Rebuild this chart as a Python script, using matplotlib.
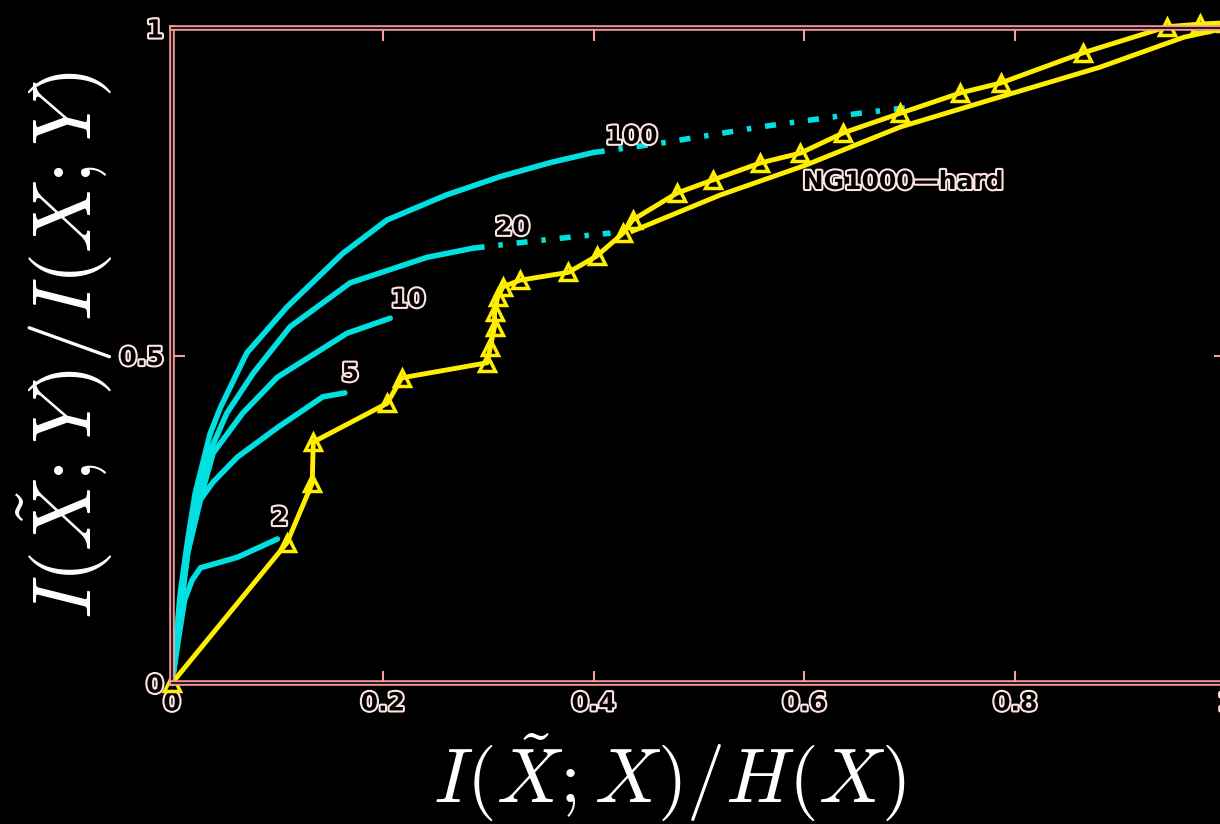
import matplotlib
matplotlib.use("Agg")
import matplotlib.pyplot as plt
import matplotlib.patheffects as pe

plt.rcParams["mathtext.fontset"] = "cm"

# curve data (x = I(X~;X)/H(X), y = I(X~;Y)/I(X;Y))
c100_x = [0, 0.003, 0.008, 0.015, 0.022, 0.036, 0.046, 0.071, 0.109, 0.162, 0.204, 0.26, 0.311, 0.36, 0.40]
c100_y = [0, 0.05, 0.14, 0.22, 0.29, 0.38, 0.421, 0.504, 0.574, 0.656, 0.707, 0.745, 0.773, 0.795, 0.81]
c100_dot_x = [0.40, 0.463, 0.558, 0.653, 0.70]
c100_dot_y = [0.81, 0.824, 0.849, 0.870, 0.879]

c20_x = [0, 0.003, 0.008, 0.015, 0.022, 0.035, 0.052, 0.077, 0.112, 0.169, 0.242, 0.286]
c20_y = [0, 0.05, 0.13, 0.21, 0.27, 0.35, 0.412, 0.473, 0.544, 0.611, 0.650, 0.664]
c20_dot_x = [0.286, 0.35, 0.416]
c20_dot_y = [0.664, 0.676, 0.687]

c10_x = [0, 0.003, 0.008, 0.015, 0.025, 0.039, 0.067, 0.10, 0.166, 0.207]
c10_y = [0, 0.04, 0.12, 0.20, 0.27, 0.351, 0.412, 0.467, 0.534, 0.557]

c5_x = [0, 0.003, 0.008, 0.015, 0.027, 0.039, 0.062, 0.10, 0.143, 0.164]
c5_y = [0, 0.04, 0.11, 0.20, 0.28, 0.307, 0.345, 0.39, 0.437, 0.443]

c2_x = [0, 0.006, 0.012, 0.019, 0.027, 0.062, 0.10]
c2_y = [0, 0.066, 0.127, 0.157, 0.176, 0.192, 0.22]

ng_x = [0, 0.109, 0.133, 0.134, 0.204, 0.218, 0.299, 0.302, 0.306, 0.306, 0.309, 0.314, 0.330,
        0.376, 0.403, 0.428, 0.437, 0.479, 0.513, 0.558, 0.596, 0.637, 0.691, 0.748, 0.786,
        0.864, 0.944, 0.975, 1.0]
ng_y = [0, 0.214, 0.305, 0.368, 0.427, 0.466, 0.489, 0.513, 0.544, 0.566, 0.589, 0.605, 0.615,
        0.627, 0.652, 0.687, 0.707, 0.748, 0.768, 0.794, 0.809, 0.840, 0.870, 0.901, 0.916,
        0.962, 1.002, 1.006, 1.008]
ng_low_x = [0.437, 0.52, 0.60, 0.691, 0.786, 0.88, 0.96, 1.0]
ng_low_y = [0.69, 0.745, 0.79, 0.849, 0.895, 0.94, 0.986, 1.0]

labels = ["100", "20", "10", "5", "2", "NG1000\u2014hard"]
label_x = [0.436, 0.323, 0.224, 0.169, 0.102, 0.694]
label_y = [0.834, 0.695, 0.585, 0.472, 0.252, 0.765]

xticks = [0, 0.2, 0.4, 0.6, 0.8, 1]
xtick_labels = ["0", "0.2", "0.4", "0.6", "0.8", "1"]
yticks = [0, 0.5, 1]
ytick_labels = ["0", "0.5", "1"]

CYAN = "#00e0e0"
YELLOW = "#ffee00"
EDGE = "#ff9a9a"
outline = [pe.Stroke(linewidth=3, foreground="#ffe4e4"), pe.Normal()]

fig = plt.figure(figsize=(12.2, 8.24), dpi=100, facecolor="black")
ax = fig.add_axes((0.141, 0.171, 0.864, 0.795), facecolor="black")

for xs, ys in [(c100_x, c100_y), (c20_x, c20_y), (c10_x, c10_y), (c5_x, c5_y), (c2_x, c2_y)]:
    ax.plot(xs, ys, color=CYAN, lw=4, solid_capstyle="round")
for xs, ys in [(c100_dot_x, c100_dot_y), (c20_dot_x, c20_dot_y)]:
    ax.plot(xs, ys, color=CYAN, lw=4, linestyle=(0, (2, 2.5, 0.8, 2.5)))

ax.plot(ng_low_x, ng_low_y, color=YELLOW, lw=3.5, clip_on=False)
ax.plot(ng_x, ng_y, color=YELLOW, lw=3.5, marker="^", markersize=11,
        markerfacecolor="none", markeredgecolor=YELLOW, markeredgewidth=2.5, clip_on=False)

for t, x, y in zip(labels, label_x, label_y):
    ax.text(x, y, t, color="black", fontsize=18, fontweight="bold",
            ha="center", va="center", path_effects=outline)

ax.set_xlim(0, 1)
ax.set_ylim(0, 1)
ax.set_xticks(xticks)
ax.set_xticklabels(xtick_labels)
ax.set_yticks(yticks)
ax.set_yticklabels(ytick_labels)
ax.tick_params(direction="in", length=9, width=1.5, color=EDGE,
               top=True, right=True, labelsize=18, labelcolor="black", pad=6)
for lab in ax.get_xticklabels() + ax.get_yticklabels():
    lab.set_fontweight("bold")
    lab.set_path_effects(outline)

for sp in ax.spines.values():
    sp.set_color(EDGE)
    sp.set_linewidth(4)
    sp.set_path_effects([pe.Stroke(linewidth=4, foreground=EDGE),
                         pe.Stroke(linewidth=1.5, foreground="#202020")])

fig.text(0.549, 0.026, r"$I(\tilde{X};X)/H(X)$", color="white", fontsize=55,
         ha="center", va="baseline")
fig.text(0.053, 0.581, r"$I(\tilde{X};Y)/I(X;Y)$", color="white", fontsize=60,
         ha="center", va="center", rotation=90)

fig.savefig("out.png", dpi=100, facecolor="black")
